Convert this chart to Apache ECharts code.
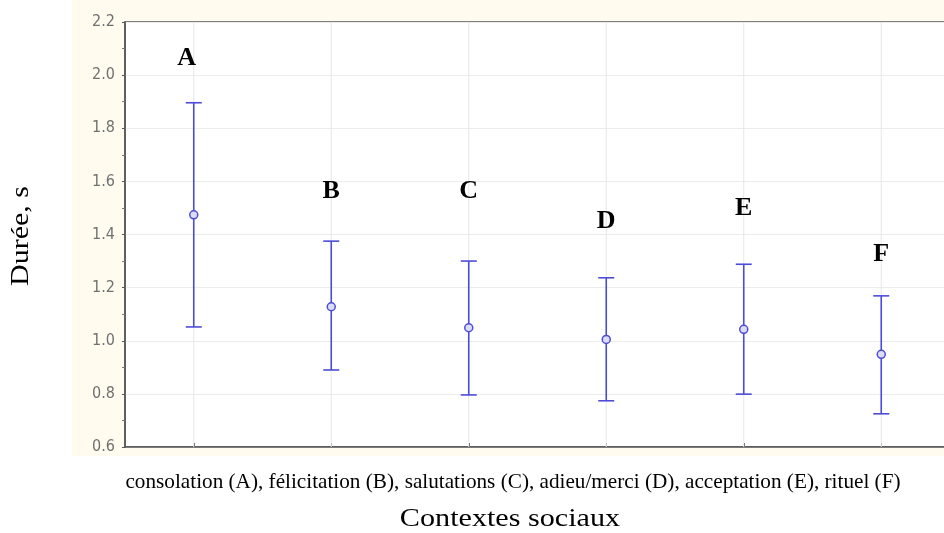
<!DOCTYPE html>
<html>
<head>
<meta charset="utf-8">
<script src="https://cdn.jsdelivr.net/npm/echarts@6/dist/echarts.min.js"></script>
<style>html,body{margin:0;padding:0;background:#fff;}#c{width:944px;height:533px;}</style>
</head>
<body>
<div id="c"></div>
<script>
const categories = ['A', 'B', 'C', 'D', 'E', 'F'];
const means = [1.474, 1.128, 1.049, 1.005, 1.043, 0.949];
const lows = [1.052, 0.890, 0.796, 0.774, 0.799, 0.725];
const highs = [1.896, 1.375, 1.300, 1.237, 1.288, 1.169];
const letterY = [2.064, 1.564, 1.564, 1.451, 1.500, 1.327];
const yTicks = { min: 0.6, max: 2.2, interval: 0.2 };
const xText = 'consolation (A), félicitation (B), salutations (C), adieu/merci (D), acceptation (E), rituel (F)';
const xTitle = 'Contextes sociaux';
const yTitle = 'Durée, s';

const chart = echarts.init(document.getElementById('c'), null, { renderer: 'canvas' });
const barColor = '#4c4cd8';

const errData = categories.map((c, i) => [i, lows[i], highs[i], means[i]]);
const letterData = categories.map((c, i) => [i, letterY[i]]);

chart.setOption({
  animation: false,
  backgroundColor: '#ffffff',
  graphic: [
    { type: 'rect', z: -10, shape: { x: 72, y: 0, width: 872, height: 456 }, style: { fill: '#fffcef' } },
    { type: 'text', z: 10, x: 513, y: 482, scaleX: 1.01, style: { text: xText, font: '21px "Liberation Serif", serif', fill: '#000', textAlign: 'center', textVerticalAlign: 'middle' } },
    { type: 'text', z: 10, x: 510, y: 519, scaleX: 1.16, style: { text: xTitle, font: '26px "Liberation Serif", serif', fill: '#000', textAlign: 'center', textVerticalAlign: 'middle' } },
    { type: 'text', z: 10, x: 21, y: 236, rotation: Math.PI / 2, scaleX: 1.2, style: { text: yTitle, font: '25px "Liberation Serif", serif', fill: '#000', textAlign: 'center', textVerticalAlign: 'middle' } }
  ],
  grid: { left: 125, top: 22, height: 425, width: 825, outerBoundsMode: 'none', containLabel: false, show: true, backgroundColor: '#ffffff', borderColor: '#555', borderWidth: 1.5, z: 0 },
  xAxis: {
    type: 'category',
    data: categories,
    axisLine: { lineStyle: { color: '#555', width: 1.5 } },
    axisTick: { show: true, alignWithLabel: true, inside: true, length: 4, lineStyle: { color: '#555' } },
    axisLabel: { show: false },
    splitLine: { show: false }
  },
  yAxis: {
    type: 'value',
    min: yTicks.min, max: yTicks.max, interval: yTicks.interval,
    axisLine: { show: true, lineStyle: { color: '#555', width: 1.5 } },
    axisTick: { show: true, inside: false, length: 3, lineStyle: { color: '#555' } },
    minorTick: { show: true, splitNumber: 2, length: 3, lineStyle: { color: '#777' } },
    axisLabel: { color: '#707070', fontSize: 16, fontFamily: 'DejaVu Sans Condensed, DejaVu Sans, sans-serif', margin: 10, formatter: v => v.toFixed(1) },
    splitLine: { show: true, lineStyle: { color: '#ececec', width: 1 } }
  },
  series: [
    {
      type: 'custom',
      data: errData,
      z: 5,
      renderItem: function (params, api) {
        const x = api.value(0);
        const pLow = api.coord([x, api.value(1)]);
        const pHigh = api.coord([x, api.value(2)]);
        const pMean = api.coord([x, api.value(3)]);
        const pTop = api.coord([x, yTicks.max]);
        const pBot = api.coord([x, yTicks.min]);
        const cap = 8;
        return {
          type: 'group',
          children: [
            { type: 'line', z2: 0, shape: { x1: pTop[0], y1: pTop[1], x2: pBot[0], y2: pBot[1] }, style: { stroke: '#e6e6e6', lineWidth: 1 } },
            { type: 'line', z2: 2, shape: { x1: pLow[0], y1: pLow[1], x2: pHigh[0], y2: pHigh[1] }, style: { stroke: barColor, lineWidth: 1.6 } },
            { type: 'line', z2: 2, shape: { x1: pHigh[0] - cap, y1: pHigh[1], x2: pHigh[0] + cap, y2: pHigh[1] }, style: { stroke: barColor, lineWidth: 1.6 } },
            { type: 'line', z2: 2, shape: { x1: pLow[0] - cap, y1: pLow[1], x2: pLow[0] + cap, y2: pLow[1] }, style: { stroke: barColor, lineWidth: 1.6 } },
            { type: 'circle', z2: 3, shape: { cx: pMean[0], cy: pMean[1], r: 4 }, style: { fill: '#dcdcf8', stroke: barColor, lineWidth: 1.5 } }
          ]
        };
      }
    },
    {
      type: 'scatter',
      data: letterData.map((d, i) => ({ value: d, label: { offset: [i === 0 ? -7 : 0, 0] } })),
      symbolSize: 1,
      itemStyle: { opacity: 0 },
      z: 6,
      label: {
        show: true,
        position: 'inside',
        formatter: p => categories[p.dataIndex],
        color: '#000',
        opacity: 1,
        fontSize: 26,
        fontWeight: 'bold',
        fontFamily: 'Liberation Serif'
      }
    }
  ]
});
</script>
</body>
</html>
